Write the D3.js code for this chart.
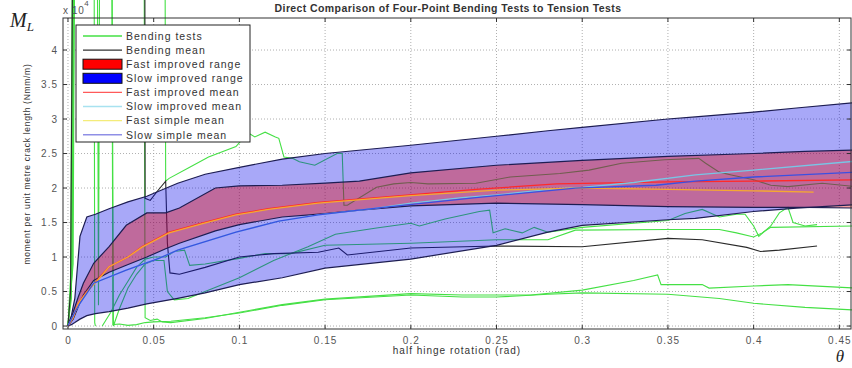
<!DOCTYPE html>
<html>
<head>
<meta charset="utf-8">
<script src="https://cdn.jsdelivr.net/npm/d3@7"></script>
<style>
    body { margin: 0; background: #ffffff; font-family: "Liberation Sans", Arial, Helvetica, sans-serif; }
    svg { display: block; }
</style>
</head>
<body>
<svg id="grafico"></svg>
<script>
// values are in units of 1e4 Nmm/m, theta in rad. 6.5 means "off the top of the axes"
let xTicks = [0, 0.05, 0.1, 0.15, 0.2, 0.25, 0.3, 0.35, 0.4, 0.45];
let yTicks = [0, 0.5, 1, 1.5, 2, 2.5, 3, 3.5, 4];

let legendLabels = ["Bending tests", "Bending mean", "Fast improved range", "Slow improved range",
    "Fast improved mean", "Slow improved mean", "Fast simple mean", "Slow simple mean"];

// [theta, lower, upper]
let slowRange = [
    [0, 0, 0], [0.002, 0.02, 0.15], [0.004, 0.05, 0.4], [0.007, 0.1, 1.3], [0.011, 0.15, 1.58],
    [0.016, 0.18, 1.62], [0.024, 0.21, 1.7], [0.035, 0.26, 1.8], [0.046, 0.32, 1.88], [0.064, 0.4, 2.07],
    [0.08, 0.48, 2.2], [0.1, 0.6, 2.3], [0.125, 0.7, 2.42], [0.15, 0.84, 2.5], [0.2, 0.97, 2.62],
    [0.25, 1.17, 2.75], [0.28, 1.36, 2.83], [0.3, 1.46, 2.88], [0.35, 1.54, 3.0], [0.366, 1.56, 3.03],
    [0.4, 1.66, 3.1], [0.425, 1.71, 3.16], [0.46, 1.76, 3.24]
];
let fastRange = [
    [0, 0, 0], [0.003, 0.1, 0.2], [0.006, 0.28, 0.42], [0.009, 0.45, 0.62], [0.015, 0.66, 0.91],
    [0.024, 0.78, 1.15], [0.034, 0.88, 1.46], [0.046, 1.0, 1.64], [0.057, 1.12, 1.64], [0.065, 1.2, 1.71],
    [0.086, 1.38, 2.0], [0.1, 1.47, 2.03], [0.125, 1.58, 2.04], [0.15, 1.63, 2.07], [0.17, 1.68, 2.1],
    [0.2, 1.74, 2.22], [0.25, 1.78, 2.33], [0.3, 1.76, 2.4], [0.35, 1.73, 2.46], [0.4, 1.72, 2.5],
    [0.43, 1.72, 2.53], [0.46, 1.71, 2.55]
];

let fastImprovedMean = [
    [0, 0], [0.003, 0.12], [0.006, 0.33], [0.011, 0.5], [0.02, 0.75], [0.024, 0.86], [0.035, 1.0],
    [0.043, 1.15], [0.059, 1.36], [0.078, 1.49], [0.098, 1.62], [0.117, 1.7], [0.146, 1.79], [0.18, 1.86],
    [0.238, 1.98], [0.285, 2.06], [0.35, 2.09], [0.4, 2.1], [0.46, 2.12]
];
let slowImprovedMean = [
    [0, 0], [0.004, 0.2], [0.007, 0.33], [0.015, 0.62], [0.034, 0.81], [0.053, 0.98], [0.064, 1.1],
    [0.098, 1.36], [0.123, 1.52], [0.146, 1.61], [0.18, 1.71], [0.2, 1.78], [0.23, 1.86], [0.25, 1.9],
    [0.285, 1.99], [0.3, 2.01], [0.33, 2.08], [0.366, 2.19], [0.4, 2.26], [0.46, 2.39]
];
let fastSimpleMean = [
    [0, 0], [0.003, 0.12], [0.006, 0.33], [0.011, 0.49], [0.02, 0.74], [0.024, 0.86], [0.035, 1.0],
    [0.043, 1.14], [0.059, 1.35], [0.078, 1.48], [0.098, 1.61], [0.117, 1.69], [0.146, 1.78], [0.18, 1.85],
    [0.2, 1.89], [0.25, 1.97], [0.3, 2.0], [0.35, 1.98], [0.4, 1.96], [0.435, 1.94]
];
let slowSimpleMean = [
    [0, 0], [0.004, 0.2], [0.007, 0.33], [0.015, 0.62], [0.034, 0.81], [0.053, 0.98], [0.064, 1.1],
    [0.098, 1.36], [0.123, 1.52], [0.146, 1.61], [0.18, 1.71], [0.238, 1.86], [0.296, 2.0], [0.343, 2.04],
    [0.366, 2.1], [0.4, 2.16], [0.46, 2.23]
];

let bendingMean = [
    [0, 0], [0.0015, 0.5], [0.003, 6.5], [0.0448, 6.5], [0.045, 1.85], [0.048, 1.82], [0.052, 1.95],
    [0.057, 2.1], [0.058, 1.2], [0.0595, 0.77], [0.065, 0.75], [0.08, 0.85], [0.1, 1.0], [0.12, 1.05],
    [0.146, 1.07], [0.158, 1.13], [0.163, 1.03], [0.2, 1.13], [0.25, 1.16], [0.3, 1.15], [0.35, 1.27],
    [0.37, 1.25], [0.396, 1.14], [0.404, 1.08], [0.415, 1.1], [0.437, 1.16]
];

let test1 = [[0, 0], [0.002, 0.6], [0.0045, 6.5], [0.0152, 6.5], [0.0156, 0.05], [0.016, 0]];
let test2 = [
    [0, 0], [0.0025, 0.8], [0.0035, 6.5], [0.017, 6.5], [0.0178, 0.3], [0.0186, 6.5], [0.0255, 6.5],
    [0.0262, 0.02], [0.03, 0.03], [0.035, 0.01], [0.04, 0.02], [0.045, 0.05], [0.05, 0.06], [0.06, 0.07],
    [0.08, 0.12], [0.1, 0.19], [0.125, 0.3], [0.15, 0.38], [0.2, 0.45], [0.23, 0.42], [0.25, 0.42],
    [0.28, 0.46], [0.3, 0.48], [0.35, 0.46], [0.38, 0.4], [0.4, 0.33], [0.43, 0.27], [0.46, 0.23]
];
let test3 = [
    [0, 0], [0.003, 0.9], [0.004, 6.5], [0.0443, 6.5], [0.045, 0.12], [0.048, 0.08], [0.052, 0.1],
    [0.055, 0.06], [0.06, 0.05], [0.08, 0.11], [0.1, 0.2], [0.125, 0.31], [0.15, 0.39], [0.2, 0.47],
    [0.23, 0.45], [0.27, 0.45], [0.3, 0.52], [0.33, 0.66], [0.344, 0.74], [0.346, 0.6], [0.37, 0.6],
    [0.374, 0.55], [0.4, 0.58], [0.42, 0.6], [0.46, 0.55]
];
let test4 = [
    [0, 0], [0.002, 0.4], [0.0032, 6.5], [0.0255, 6.5], [0.0265, 0], [0.03, 0.25], [0.035, 0.55],
    [0.04, 0.75], [0.045, 0.9], [0.05, 0.95], [0.056, 0.95], [0.058, 0.5], [0.062, 0.38], [0.07, 0.4],
    [0.08, 0.5], [0.1, 0.7], [0.12, 0.95], [0.14, 1.15], [0.156, 1.33], [0.18, 1.42], [0.2, 1.49],
    [0.205, 1.45], [0.22, 1.55], [0.24, 1.66], [0.246, 1.68], [0.248, 1.35], [0.255, 1.41], [0.265, 1.35],
    [0.272, 1.43], [0.28, 1.36], [0.3, 1.43], [0.33, 1.49], [0.35, 1.53], [0.36, 1.63], [0.37, 1.69],
    [0.38, 1.58], [0.39, 1.62], [0.395, 1.62], [0.4, 1.45], [0.403, 1.3], [0.41, 1.45], [0.415, 1.64],
    [0.42, 1.72], [0.423, 1.5], [0.43, 1.45], [0.437, 1.47]
];
let test5 = [
    [0.02, 0], [0.025, 0.2], [0.03, 0.45], [0.035, 0.65], [0.04, 0.85], [0.045, 0.97], [0.05, 1.0],
    [0.057, 1.0], [0.062, 1.08], [0.068, 1.1], [0.071, 0.88], [0.08, 0.9], [0.1, 0.98], [0.115, 1.05],
    [0.13, 1.05], [0.15, 1.17], [0.2, 1.2], [0.25, 1.25], [0.28, 1.25], [0.296, 1.39], [0.35, 1.4],
    [0.38, 1.4], [0.39, 1.35], [0.4, 1.29], [0.405, 1.35], [0.41, 1.43], [0.46, 1.45]
];
let test6 = [
    [0, 0], [0.0015, 0.7], [0.0028, 6.5], [0.0565, 6.5], [0.057, 2.1], [0.059, 2.14], [0.071, 2.3],
    [0.082, 2.45], [0.098, 2.6], [0.105, 2.8], [0.109, 2.74], [0.115, 2.81], [0.121, 2.74], [0.123, 2.72],
    [0.126, 2.45], [0.131, 2.43], [0.135, 2.38], [0.144, 2.33], [0.157, 2.5], [0.16, 2.5], [0.161, 1.75],
    [0.163, 1.75], [0.18, 2.01], [0.19, 2.06], [0.2, 2.08], [0.21, 2.06], [0.238, 2.07], [0.258, 2.16],
    [0.287, 2.21], [0.304, 2.26], [0.323, 2.36], [0.348, 2.41], [0.368, 2.43], [0.372, 2.36], [0.38, 2.23],
    [0.387, 2.19], [0.4, 2.12], [0.41, 2.04], [0.42, 2.02], [0.44, 2.07], [0.46, 2.02]
];
let bendingTests = [test1, test2, test3, test4, test5, test6];

function configuration() {
    let width = 852;
    let height = 368;
    let box = { left: 63, right: 851, top: 18, bottom: 329 };
    let svg = d3.select("#grafico").attr("width", width).attr("height", height);
    return { width, height, box, svg };
}

function makeScales(conf) {
    let { box } = conf;
    let x = d3.scaleLinear().domain([-0.0029, 0.4568]).range([box.left, box.right]);
    let y = d3.scaleLinear().domain([-0.043, 4.464]).range([box.bottom, box.top]);
    return { x, y };
}

function drawGrid(conf, scales) {
    let { svg, box } = conf;
    let { x, y } = scales;
    let g = svg.append("g");
    g.selectAll(".gx").data(xTicks).enter().append("line")
        .attr("x1", d => x(d)).attr("x2", d => x(d))
        .attr("y1", box.top).attr("y2", box.bottom)
        .attr("stroke", "#9a9a9a").attr("stroke-width", 0.8).attr("stroke-dasharray", "1,2");
    g.selectAll(".gy").data(yTicks).enter().append("line")
        .attr("x1", box.left).attr("x2", box.right)
        .attr("y1", d => y(d)).attr("y2", d => y(d))
        .attr("stroke", "#9a9a9a").attr("stroke-width", 0.8).attr("stroke-dasharray", "1,2");
}

function drawSeries(conf, scales) {
    let { svg } = conf;
    let { x, y } = scales;
    let line = d3.line().x(d => x(d[0])).y(d => y(d[1]));

    // tests and bending mean sit underneath the transparent ranges
    svg.append("g").selectAll("path").data(bendingTests).enter().append("path")
        .attr("d", line).attr("fill", "none").attr("stroke", "#45e045").attr("stroke-width", 1.1);
    svg.append("path").attr("d", line(bendingMean))
        .attr("fill", "none").attr("stroke", "#2a2a2a").attr("stroke-width", 1.1);

    let area = d3.area().x(d => x(d[0])).y0(d => y(d[1])).y1(d => y(d[2]));
    svg.append("path").attr("d", area(slowRange)).attr("fill", "rgb(0,0,235)").attr("fill-opacity", 0.34);
    svg.append("path").attr("d", area(fastRange)).attr("fill", "rgb(230,0,0)").attr("fill-opacity", 0.37);

    let lower = d3.line().x(d => x(d[0])).y(d => y(d[1]));
    let upper = d3.line().x(d => x(d[0])).y(d => y(d[2]));
    [slowRange, fastRange].forEach(r => {
        svg.append("path").attr("d", lower(r)).attr("fill", "none").attr("stroke", "#1d1d52").attr("stroke-width", 1.2);
        svg.append("path").attr("d", upper(r)).attr("fill", "none").attr("stroke", "#1d1d52").attr("stroke-width", 1.2);
    });

    let means = [
        { data: fastImprovedMean, color: "#ff2a2a" },
        { data: slowImprovedMean, color: "#78c6e6" },
        { data: fastSimpleMean, color: "#f5a832" },
        { data: slowSimpleMean, color: "#3a50e2" }
    ];
    means.forEach(m => {
        svg.append("path").attr("d", line(m.data)).attr("fill", "none")
            .attr("stroke", m.color).attr("stroke-width", 1.3);
    });
}

function drawAxes(conf, scales) {
    let { svg, box } = conf;
    let { x, y } = scales;
    let g = svg.append("g");

    g.append("rect").attr("x", box.left).attr("y", box.top)
        .attr("width", box.right - box.left).attr("height", box.bottom - box.top)
        .attr("fill", "none").attr("stroke", "#333").attr("stroke-width", 1);

    xTicks.forEach(t => {
        g.append("line").attr("x1", x(t)).attr("x2", x(t)).attr("y1", box.bottom).attr("y2", box.bottom - 4).attr("stroke", "#333");
        g.append("line").attr("x1", x(t)).attr("x2", x(t)).attr("y1", box.top).attr("y2", box.top + 4).attr("stroke", "#333");
    });
    yTicks.forEach(t => {
        g.append("line").attr("x1", box.left).attr("x2", box.left + 4).attr("y1", y(t)).attr("y2", y(t)).attr("stroke", "#333");
        g.append("line").attr("x1", box.right).attr("x2", box.right - 4).attr("y1", y(t)).attr("y2", y(t)).attr("stroke", "#333");
    });

    g.selectAll(".xl").data(xTicks).enter().append("text")
        .attr("x", d => x(d) + 0.5).attr("y", box.bottom + 15)
        .attr("text-anchor", "middle").attr("font-size", "10px").attr("letter-spacing", "1px").attr("fill", "#555")
        .text(d => d3.format("~g")(d));
    g.selectAll(".yl").data(yTicks).enter().append("text")
        .attr("x", box.left - 5).attr("y", d => y(d) + 3.5)
        .attr("text-anchor", "end").attr("font-size", "10px").attr("letter-spacing", "1px").attr("fill", "#555")
        .text(d => d3.format("~g")(d));

    // exponent above the y axis
    let e = g.append("text").attr("x", box.left).attr("y", 14).attr("font-size", "10px")
        .attr("letter-spacing", "0.6px").attr("fill", "#555");
    e.append("tspan").text("x 10");
    e.append("tspan").attr("dy", -8).attr("font-size", "8px").text("4");

    g.append("text").attr("x", 448).attr("y", 12)
        .attr("text-anchor", "middle").attr("font-size", "10.5px").attr("font-weight", "bold")
        .attr("letter-spacing", "0.4px").attr("fill", "#333")
        .text("Direct Comparison of Four-Point Bending Tests to Tension Tests");

    g.append("text").attr("x", 457).attr("y", 354)
        .attr("text-anchor", "middle").attr("font-size", "10px").attr("letter-spacing", "1px").attr("fill", "#333")
        .text("half hinge rotation (rad)");

    g.append("text").attr("transform", "translate(30,164) rotate(-90)")
        .attr("text-anchor", "middle").attr("font-size", "8.5px").attr("letter-spacing", "0.7px").attr("fill", "#333")
        .text("moment per unit metre crack length (Nmm/m)");

    let m = g.append("text").attr("x", 10).attr("y", 27)
        .attr("font-family", "'Liberation Serif', 'DejaVu Serif', serif").attr("font-style", "italic")
        .attr("font-size", "20px").attr("fill", "#222");
    m.append("tspan").text("M");
    m.append("tspan").attr("dy", 4).attr("font-size", "13px").text("L");

    g.append("text").attr("x", 840).attr("y", 362).attr("text-anchor", "middle")
        .attr("font-family", "'Liberation Serif', 'DejaVu Serif', serif").attr("font-style", "italic")
        .attr("font-size", "17px").attr("fill", "#222").text("θ");
}

function drawLegend(conf) {
    let { svg } = conf;
    let g = svg.append("g");
    g.append("rect").attr("x", 76).attr("y", 25).attr("width", 174).attr("height", 117)
        .attr("fill", "#fff").attr("stroke", "#222").attr("stroke-width", 1);

    let kinds = [
        { type: "line", color: "#45e045" },
        { type: "line", color: "#333" },
        { type: "patch", color: "#ff0000" },
        { type: "patch", color: "#0000ff" },
        { type: "line", color: "#ff5a5a" },
        { type: "line", color: "#a8e2f0" },
        { type: "line", color: "#f4ec7a" },
        { type: "line", color: "#8f8fe6" }
    ];
    legendLabels.forEach((label, i) => {
        let cy = 36 + i * 14.1;
        let k = kinds[i];
        if (k.type === "line") {
            g.append("line").attr("x1", 83).attr("x2", 122).attr("y1", cy).attr("y2", cy)
                .attr("stroke", k.color).attr("stroke-width", 1.4);
        } else {
            g.append("rect").attr("x", 83).attr("y", cy - 5).attr("width", 39).attr("height", 10)
                .attr("fill", k.color).attr("stroke", "#111").attr("stroke-width", 1);
        }
        g.append("text").attr("x", 126).attr("y", cy + 3.8)
            .attr("font-size", "10.5px").attr("letter-spacing", "1px").attr("fill", "#333").text(label);
    });
}

let conf = configuration();
let scales = makeScales(conf);
drawGrid(conf, scales);
drawSeries(conf, scales);
drawAxes(conf, scales);
drawLegend(conf);
</script>
</body>
</html>
